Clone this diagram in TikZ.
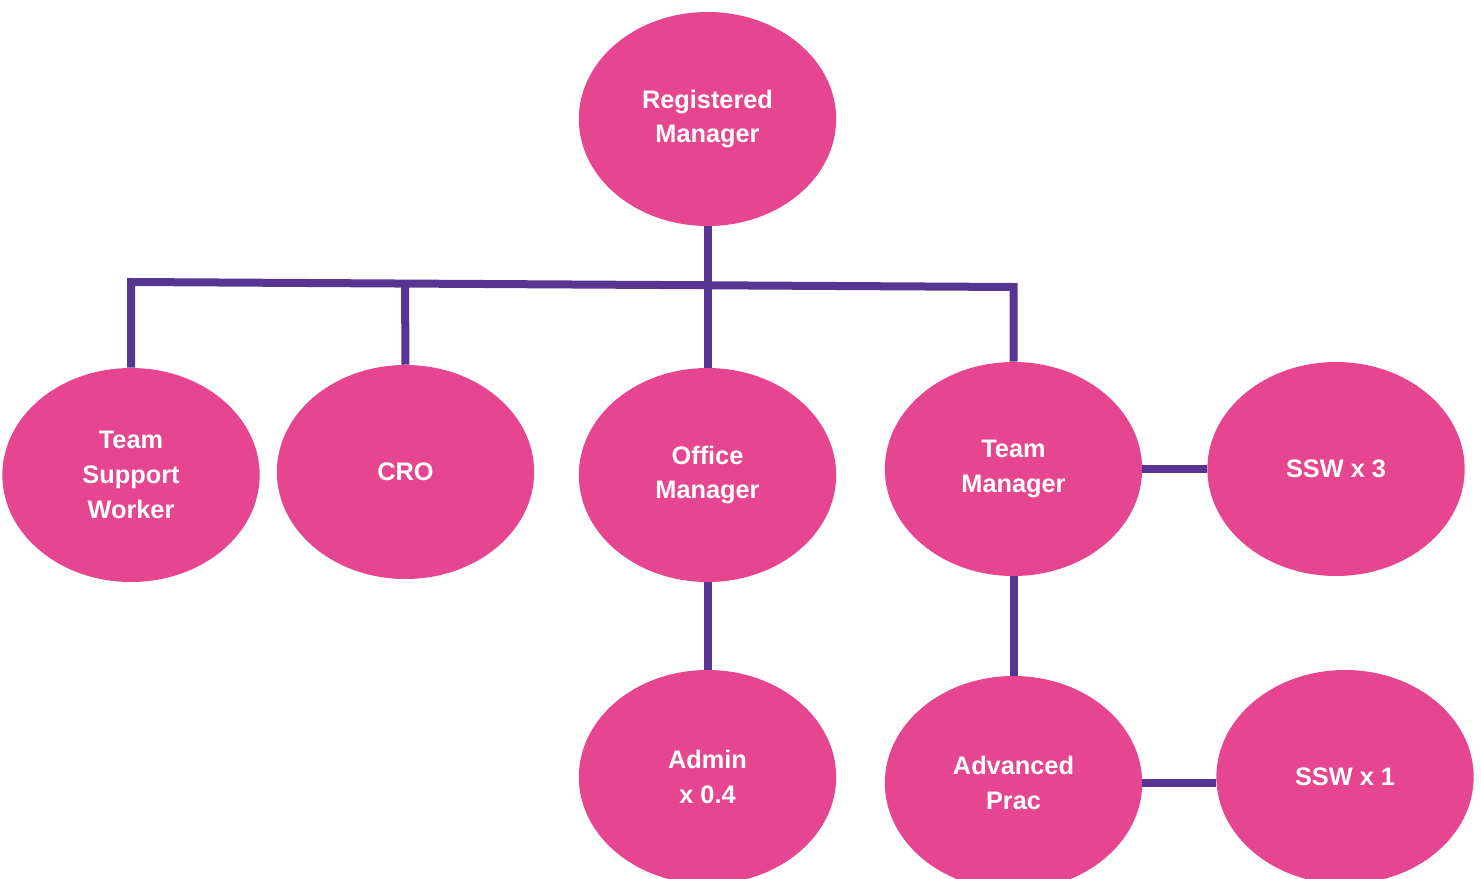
\documentclass[tikz,border=0pt]{standalone}
\usepackage{fontspec}
\setmainfont{Liberation Sans}
\usetikzlibrary{shapes.geometric}
\definecolor{pinkfill}{HTML}{E5468F}
\definecolor{linepurple}{HTML}{573593}
\tikzset{
  role/.style={ellipse, fill=pinkfill, draw=none, inner sep=0pt,
    minimum width=193pt, minimum height=160.5pt, align=center,
    text=white, font=\fontsize{19}{26}\selectfont\bfseries},
  link/.style={draw=linepurple, line width=6pt}
}
\begin{document}
\begin{tikzpicture}[x=0.75pt,y=-0.75pt]
\useasboundingbox (0,0) rectangle (1481,878);
\node[role] (rm)  at (707.5,119) {Registered\\Manager};
\node[role] (tsw) at (131,475) {Team\\Support\\Worker};
\node[role] (cro) at (405.5,472) {CRO};
\node[role] (om)  at (707.5,475) {Office\\Manager};
\node[role] (tm)  at (1013.5,469) {Team\\Manager};
\node[role] (ssw3) at (1336,469) {SSW x 3};
\node[role] (adm) at (707.5,777) {Admin\\x 0.4};
\node[role] (ap)  at (1013.5,783) {Advanced\\Prac};
\node[role] (ssw1) at (1345,777) {SSW x 1};
\coordinate (b1) at (131,282);
\coordinate (b2) at (405,283.5);
\coordinate (b3) at (707.5,285.3);
\coordinate (b4) at (1013.5,287);
\draw[link] (tsw.north) -- (b1) -- (b4) -- (tm.north);
\draw[link] (cro.north) -- (b2);
\draw[link] (rm.south) -- (b3) -- (om.north);
\draw[link] (om.south) -- (adm.north);
\draw[link] (tm.south) -- (ap.north);
\draw[link] (tm.east) -- (ssw3.west);
\draw[link] (ap.east) -- (ap.east -| ssw1.west);
\end{tikzpicture}
\end{document}
